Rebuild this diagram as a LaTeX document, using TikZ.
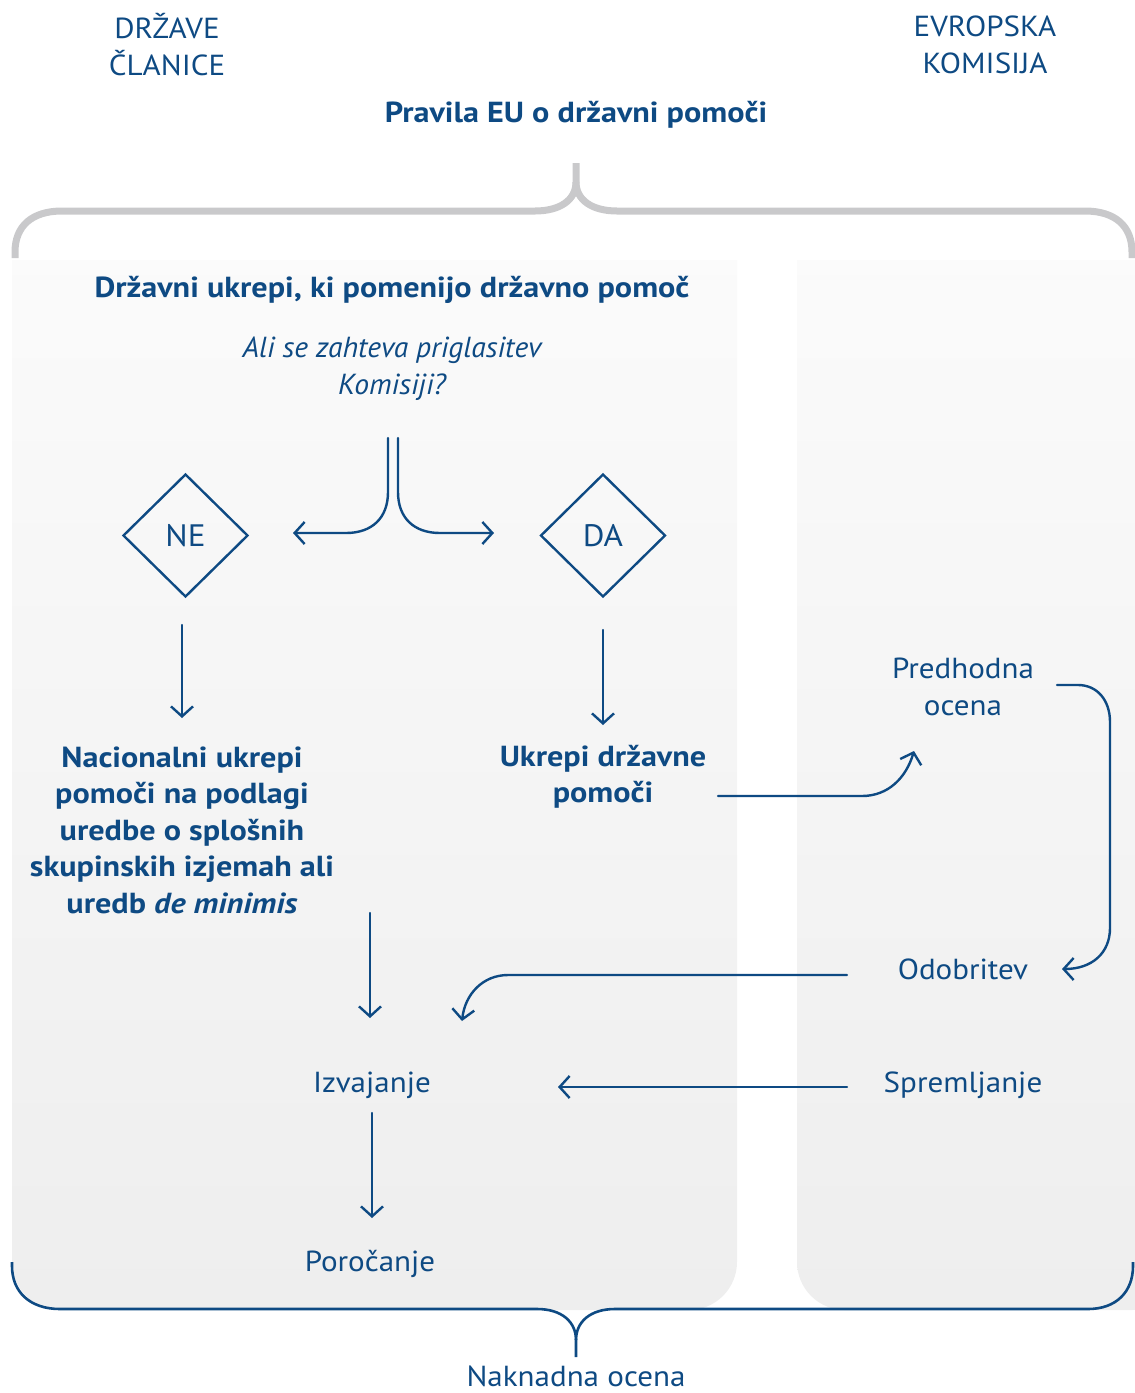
\documentclass[tikz,border=0pt]{standalone}
\usepackage{fontspec}
\setmainfont{PT Sans}[FakeStretch=1.07]
\newfontfamily\boldf{PT Sans}[FakeStretch=1.11]
\newfontfamily\italf{PT Sans}[FakeStretch=1.02]
\usetikzlibrary{arrows.meta,shapes.geometric}
\definecolor{eublue}{HTML}{0E4A83}
\definecolor{bracegray}{HTML}{C9C9CB}
\definecolor{paneltop}{HTML}{FCFCFC}
\definecolor{panelbot}{HTML}{EEEEEE}
\tikzset{
  lab/.style={text=eublue, font=\fontsize{29}{37}\selectfont, align=center, inner sep=0pt},
  blab/.style={text=eublue, font=\boldf\fontsize{29}{36.5}\selectfont\bfseries, align=center, inner sep=0pt},
  ilab/.style={text=eublue, font=\italf\fontsize{29}{37}\selectfont\itshape, align=center, inner sep=0pt},
  conn/.style={draw=eublue, line width=2.4pt, line cap=round,
    -{Straight Barb[length=10pt,width=22pt,line width=2.4pt]}},
  dia/.style={diamond, draw=eublue, line width=2.4pt, minimum width=125pt,
    minimum height=123pt, inner sep=0pt, text=eublue, font=\fontsize{31}{32}\selectfont},
  panel/.style={top color=paneltop, bottom color=panelbot, rounded corners=48pt}
}
\begin{document}
\begin{tikzpicture}[x=1pt,y=-1pt]
\useasboundingbox (0,0) rectangle (1135,1393);
% panels
\begin{scope}
  \clip (0,260) rectangle (1135,1393);
  \shade[panel] (12,150) rectangle (737,1310);
  \shade[panel] (797,150) rectangle (1180,1310);
\end{scope}
% top brace
\draw[bracegray, line width=7pt]
  (15,258) -- (15,252) .. controls (15,226) and (32,211) .. (62,211) -- (535,211)
  .. controls (560,211) and (576,200) .. (576,182) -- (576,163);
\draw[bracegray, line width=7pt]
  (576,182) .. controls (576,200) and (592,211) .. (617,211) -- (1085,211)
  .. controls (1115,211) and (1132,226) .. (1132,252) -- (1132,258);
% bottom brace
\draw[eublue, line width=2.6pt]
  (12,1262) -- (12,1266) .. controls (12,1292) and (30,1309) .. (60,1309) -- (537,1309)
  .. controls (562,1309) and (576,1322) .. (576,1340) -- (576,1357);
\draw[eublue, line width=2.6pt]
  (576,1340) .. controls (576,1322) and (590,1309) .. (615,1309) -- (1088,1309)
  .. controls (1116,1309) and (1133,1292) .. (1133,1266) -- (1133,1262);
% headings
\node[lab] (ms) at (167,45) {DRŽAVE\\ČLANICE};
\node[lab] (ek) at (985,45) {EVROPSKA\\KOMISIJA};
\node[blab] (pravila) at (576,115) {Pravila EU o državni pomoči};
\node[blab] (ukrepi) at (392,290) {Državni ukrepi, ki pomenijo državno pomoč};
\node[ilab] (q) at (392,369) {Ali se zahteva priglasitev\\Komisiji?};
% diamonds
\node[dia] (ne) at (185.5,535.5) {NE};
\node[dia] (da) at (603,535.5) {DA};
% fork
\coordinate (f1) at (388,438);
\coordinate (f2) at (398,438);
\coordinate (fl) at (293,533);
\coordinate (fr) at (494,533);
\draw[conn] (f1) -- (388,492) .. controls (388,518) and (372,533) .. (346,533) -- (fl);
\draw[conn] (f2) -- (398,492) .. controls (398,518) and (414,533) .. (440,533) -- (fr);
% texts
\node[blab] (nac) at (182,830) {Nacionalni ukrepi\\pomoči na podlagi\\uredbe o splošnih\\skupinskih izjemah ali\\uredb \textit{de minimis}};
\node[blab] (udp) at (603,777) {Ukrepi državne\\pomoči};
\node[lab] (pred) at (963,687) {Predhodna\\ocena};
\node[lab] (odo) at (963,969) {Odobritev};
\node[lab] (izv) at (372,1085) {Izvajanje};
\node[lab] (spr) at (963,1085) {Spremljanje};
\node[lab] (por) at (370,1264) {Poročanje};
\node[lab] (nak) at (576,1376) {Naknadna ocena};
% vertical arrows
\draw[conn] (182,625) -- (182,718);
\draw[conn] (603,630) -- (603,725);
\draw[conn] (370,913) -- (370,1018);
\draw[conn] (372,1113) -- (372,1218);
% flow to commission
\draw[conn] (718,796) -- (862,796) .. controls (888,796) and (906,778) .. (914,751);
\draw[conn] (1057,685) -- (1078,685) .. controls (1097,685) and (1110,700) .. (1110,722)
  -- (1110,928) .. controls (1110,953) and (1092,969) .. (1062,969);
\draw[conn] (847,975) -- (508,975) .. controls (483,975) and (465,994) .. (462,1021);
\draw[conn] (847,1087) -- (558,1087);
\end{tikzpicture}
\end{document}
